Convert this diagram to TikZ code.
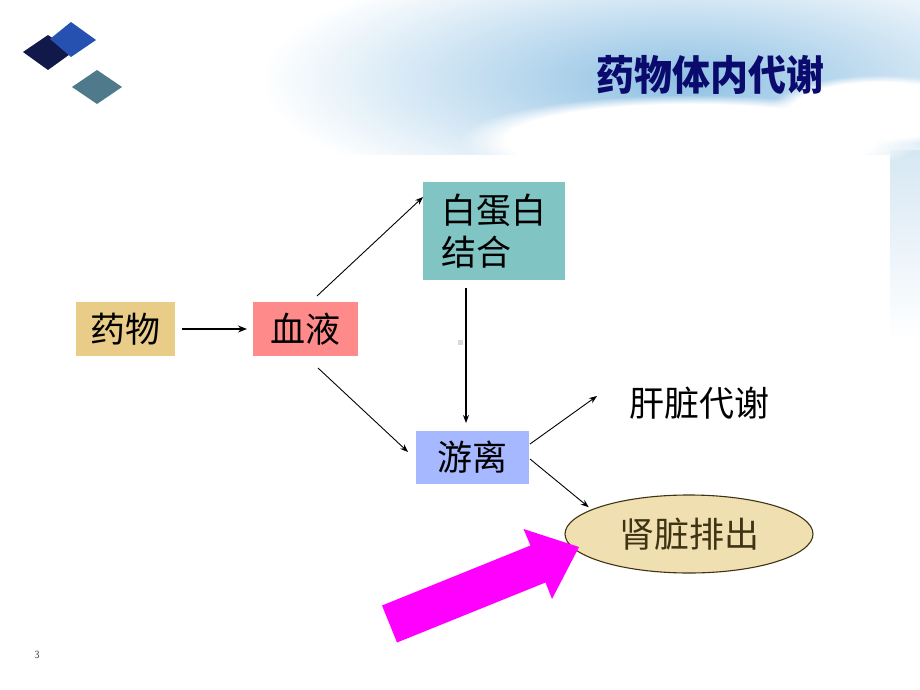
\documentclass[tikz,border=0pt]{standalone}
\usepackage{fontspec}
\newfontfamily\cjk{Noto Sans CJK SC}
\usetikzlibrary{arrows.meta,shapes.geometric,fadings}
\definecolor{navy}{HTML}{10194A}
\definecolor{dblue}{HTML}{2651B0}
\definecolor{steel}{HTML}{4E7A8C}
\definecolor{titlec}{HTML}{0B0B6E}
\definecolor{tan}{HTML}{E8CC88}
\definecolor{pinkred}{HTML}{FF8A8A}
\definecolor{tealc}{HTML}{80C4C4}
\definecolor{lblue}{HTML}{A6B8FF}
\definecolor{beige}{HTML}{F0DFB0}
\definecolor{sky}{HTML}{8EC0E3}
\definecolor{palesky}{HTML}{D6E7F3}
\definecolor{mag}{HTML}{FF00FF}
\definecolor{olive}{HTML}{3E3414}
\tikzset{
  box/.style={draw=none, inner sep=0pt, outer sep=0pt, font=\cjk\fontsize{35}{42}\selectfont, text=black},
  con/.style={draw=black, line width=0.9pt, -{Stealth[length=8pt,width=6pt]}},
  thickcon/.style={draw=black, line width=1.8pt, -{Stealth[length=9pt,width=7pt]}}
}
\begin{document}
\begin{tikzpicture}[x=1pt,y=-1pt]
\useasboundingbox (0,0) rectangle (920,690);
% background
\fill[white] (0,0) rectangle (920,690);
\shade[inner color=palesky, outer color=white] (860,80) ellipse (330 and 190);
\shade[inner color=sky, outer color=white] (680,80) ellipse (420 and 130);
\shade[top color=palesky, bottom color=white] (890,150) rectangle (920,340);
\fill[white, path fading=circle with fuzzy edge 20 percent] (690,140) ellipse (230 and 45);
\fill[white, path fading=circle with fuzzy edge 20 percent] (880,110) ellipse (110 and 35);
\fill[white] (0,155) rectangle (890,690);
% diamonds
\fill[navy] (23,52) -- (48,35) -- (73,52) -- (48,70) -- cycle;
\fill[dblue] (50,39) -- (71,22) -- (96,40) -- (71,57) -- cycle;
\fill[steel] (72,87) -- (97,70) -- (122,87) -- (97,104) -- cycle;
% title
\node[inner sep=0pt, text=titlec, font=\cjk\bfseries\fontsize{38}{44}\selectfont, yscale=1.08] (title) at (710,75) {药物体内代谢};
% nodes
\node[box, fill=tan, minimum width=99, minimum height=54] (yw) at (125.5,329) {药物};
\node[box, fill=pinkred, minimum width=105, minimum height=54] (xy) at (305.5,329) {血液};
\node[box, fill=tealc, minimum width=142, minimum height=98, align=left] (bdb) at (494,231) {白蛋白\\结合};
\node[box, fill=lblue, minimum width=113, minimum height=53] (yl) at (472.5,457.5) {游离};
\node[box] (gz) at (699,403) {肝脏代谢};
\node[ellipse, draw=olive, line width=1.1pt, fill=beige, minimum width=248, minimum height=78, inner sep=0pt, outer sep=0pt, font=\cjk\fontsize{35}{42}\selectfont, text=olive] (sz) at (689,534) {肾脏排出};
% small artifact
\fill[black!15] (458,340) rectangle (463,345);
% connectors
\draw[thickcon, shorten <=7pt, shorten >=6pt] (yw.east) -- (xy.west);
\draw[con] ([xshift=11.5pt,yshift=6pt]xy.north) -- ([yshift=34pt]bdb.west);
\draw[con] ([xshift=12.5pt,yshift=-12pt]xy.south) -- ([xshift=-8pt,yshift=5.5pt]yl.west);
\draw[con, line width=1.1pt] ([xshift=-28pt,yshift=-8pt]bdb.south) -- ([xshift=-6.5pt,yshift=8pt]yl.north);
\draw[con] ([xshift=1pt,yshift=13.5pt]yl.east) -- ([xshift=-32pt,yshift=7pt]gz.west);
\draw[con, shorten >=4pt] ([xshift=1pt,yshift=-1.5pt]yl.east) -- (sz.166);
% magenta arrow
\fill[mag] (382,605.5) -- (530.5,545.5) -- (523.5,529) -- (579,547) -- (552,599) -- (545.5,582.5) -- (397,642.5) -- cycle;
% page number
\node[inner sep=0pt, text=black!70, font=\sffamily\fontsize{11}{13}\selectfont] (pg) at (37,655) {3};
\end{tikzpicture}
\end{document}
